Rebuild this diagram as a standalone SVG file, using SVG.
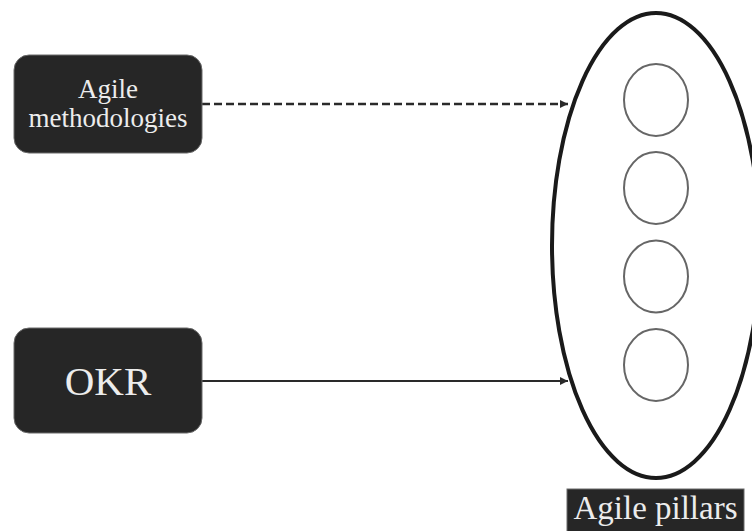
<svg xmlns="http://www.w3.org/2000/svg" width="752" height="531" viewBox="0 0 752 531">
  <style>
    .box { fill: #262626; stroke: #6a6a6a; stroke-width: 1; }
    .label { fill: #ececec; text-anchor: middle; font-family: Tinos, "Liberation Serif", "Times New Roman", Times, serif; }
    .pillar { fill: none; stroke: #666; stroke-width: 2; }
    .link { fill: none; stroke: #2a2a2a; }
  </style>
  <defs>
    <marker id="arrow" viewBox="0 0 8 8" refX="8" refY="4" markerWidth="8" markerHeight="8" markerUnits="userSpaceOnUse" orient="auto">
      <path d="M0,0 L8,4 L0,8 Z" fill="#2a2a2a"/>
    </marker>
  </defs>

  <rect width="752" height="531" fill="#fff"/>

  <g id="connectors">
    <line class="link" x1="202" y1="104" x2="568" y2="104" stroke-width="2.5" stroke-dasharray="8 4" marker-end="url(#arrow)"/>
    <line class="link" x1="202" y1="381" x2="568" y2="381" stroke-width="2" marker-end="url(#arrow)"/>
  </g>

  <g id="agile-methodologies">
    <rect class="box" x="14" y="55" width="188" height="98" rx="15"/>
    <text class="label" x="108" y="98" font-size="27">Agile</text>
    <text class="label" x="108" y="127" font-size="27">methodologies</text>
  </g>

  <g id="okr">
    <rect class="box" x="14" y="328" width="188" height="105" rx="15"/>
    <text class="label" x="108" y="395" font-size="41">OKR</text>
  </g>

  <g id="agile-pillars">
    <ellipse cx="656" cy="245.5" rx="104" ry="232.5" fill="none" stroke="#1a1a1a" stroke-width="4"/>
    <ellipse class="pillar" cx="656" cy="100" rx="32" ry="36"/>
    <ellipse class="pillar" cx="656" cy="188" rx="32" ry="36"/>
    <ellipse class="pillar" cx="656" cy="276.5" rx="32" ry="36"/>
    <ellipse class="pillar" cx="656" cy="365" rx="32" ry="36"/>
    <rect class="box" x="567" y="489" width="177" height="46" stroke="none"/>
    <text class="label" x="655.5" y="519" font-size="33">Agile pillars</text>
  </g>
</svg>
